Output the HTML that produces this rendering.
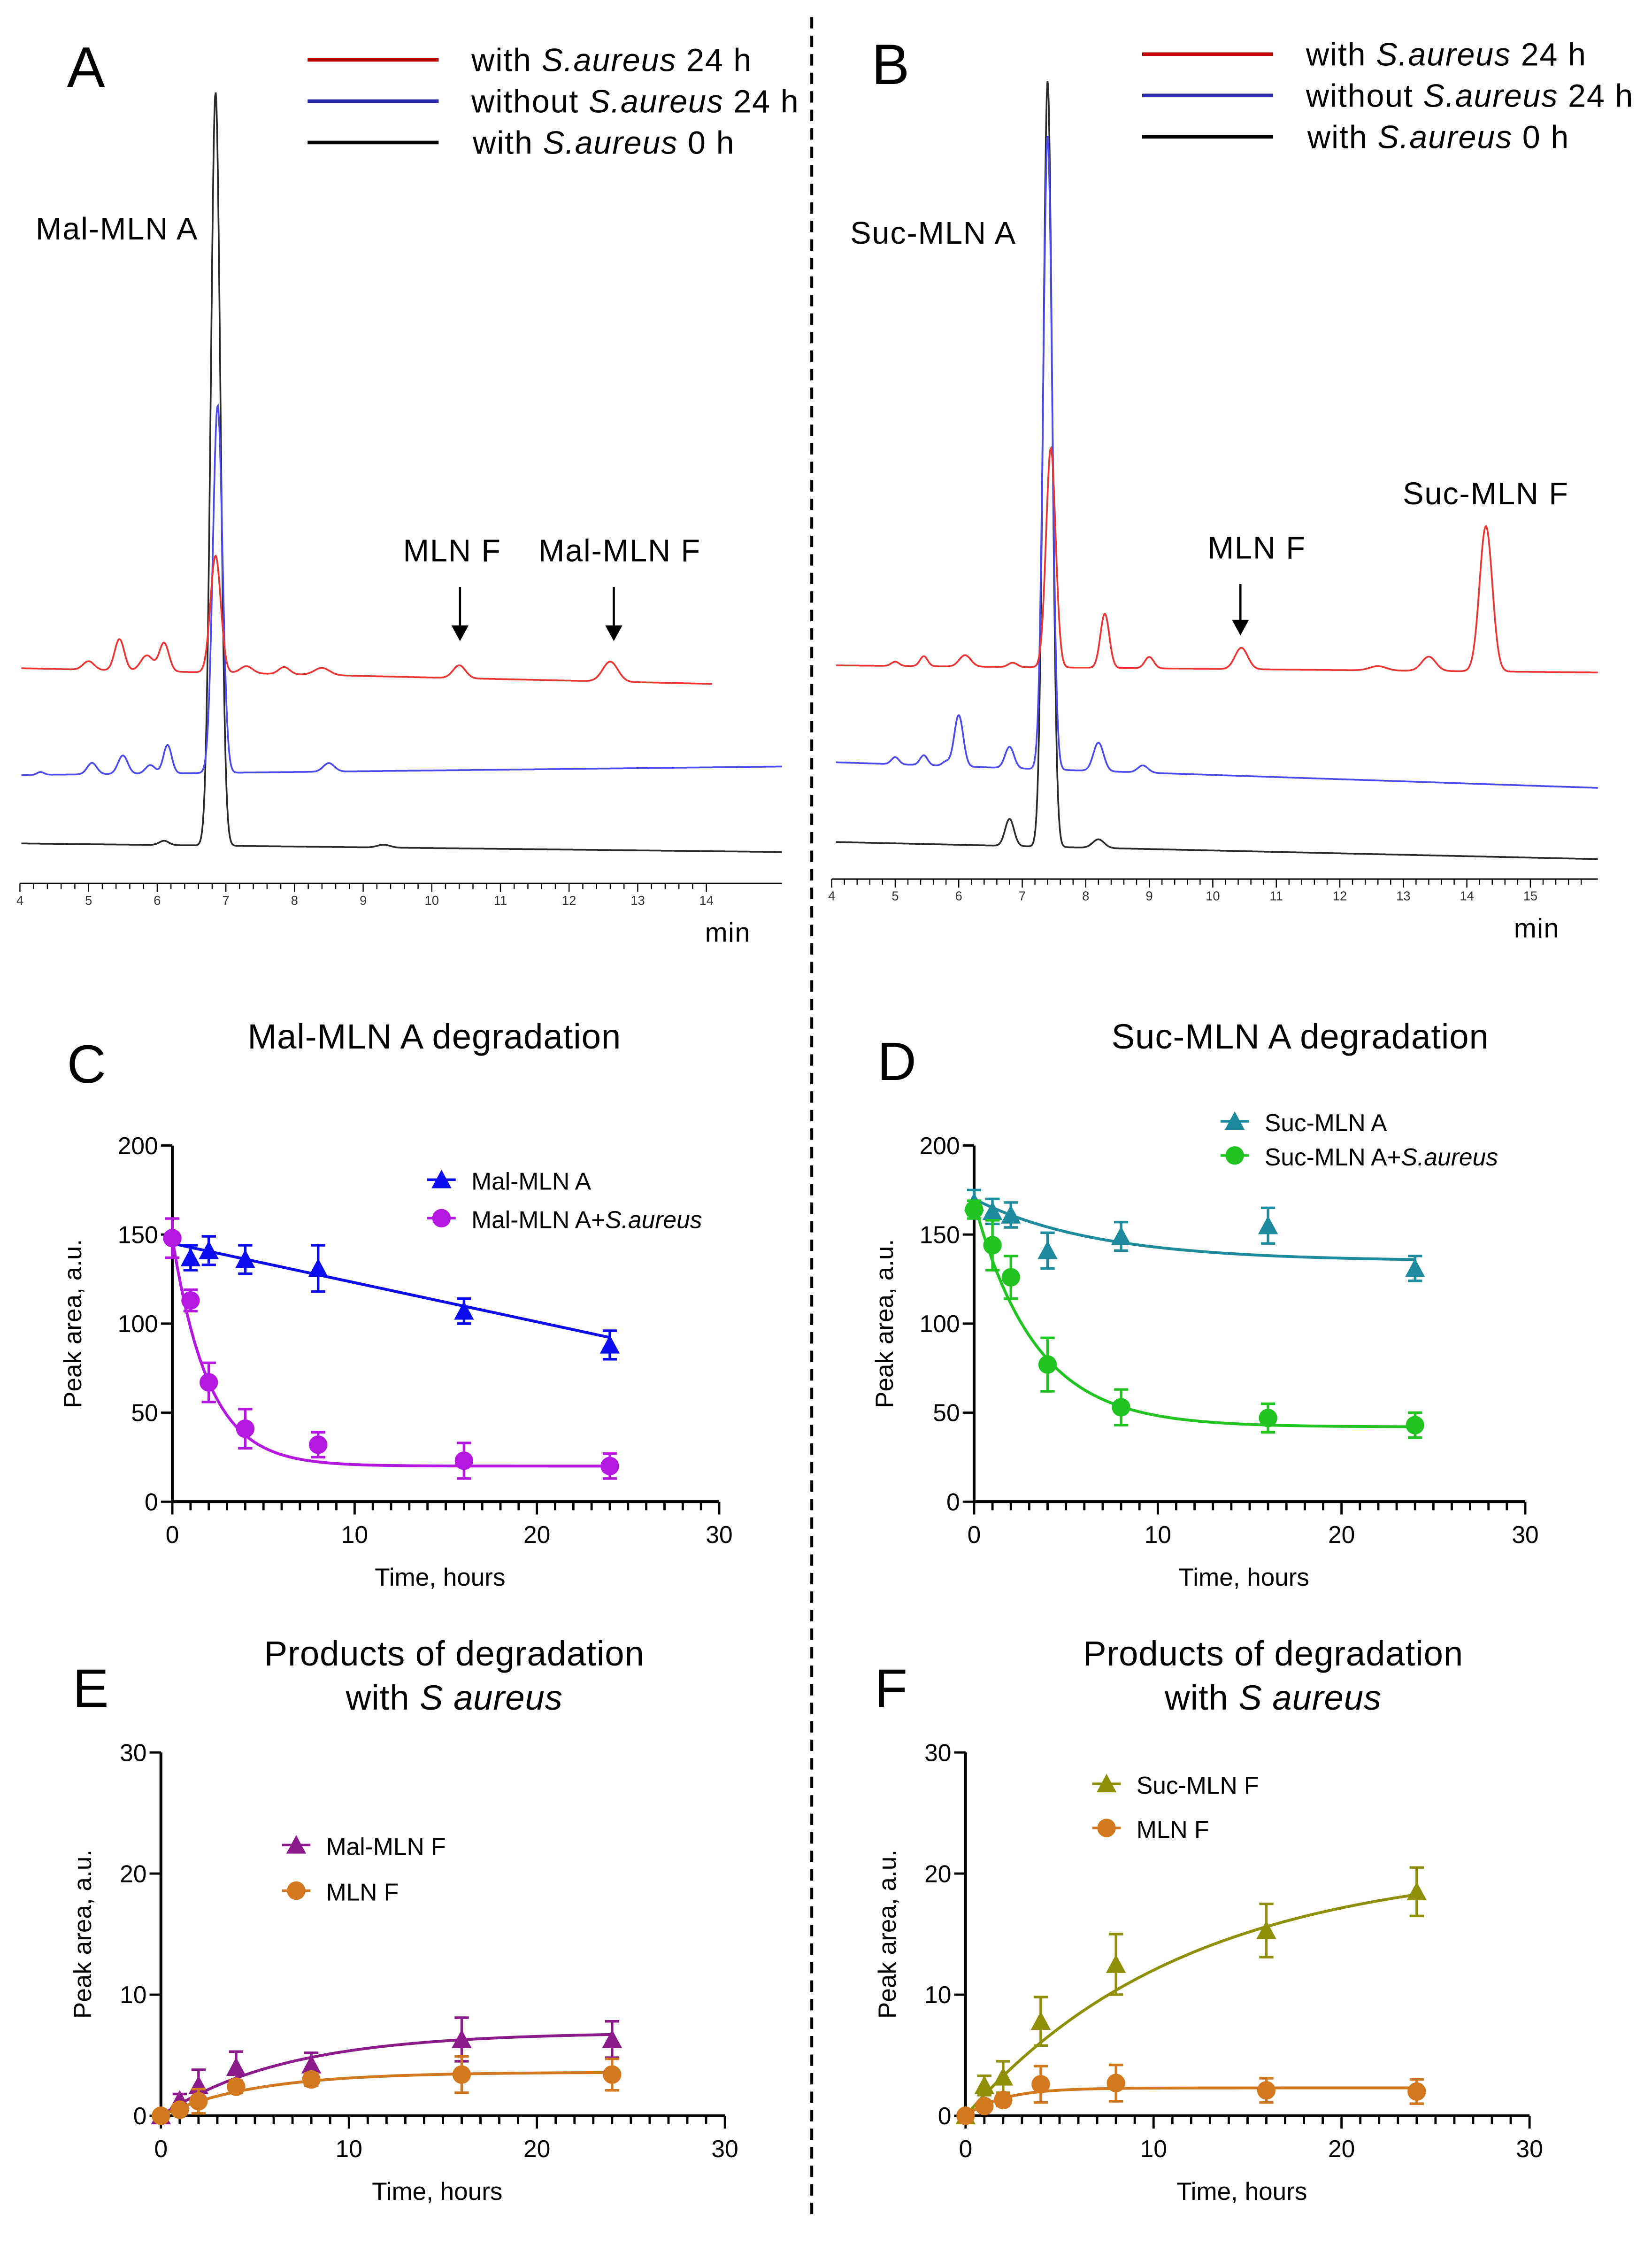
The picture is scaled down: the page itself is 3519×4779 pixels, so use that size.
<!DOCTYPE html>
<html><head><meta charset="utf-8">
<style>
html,body{margin:0;padding:0;background:#fff;}
svg{display:block;font-family:"Liberation Sans",sans-serif;}
</style></head>
<body>
<svg id="fig" xmlns="http://www.w3.org/2000/svg" width="3519" height="4779" viewBox="0 0 1160 1575" preserveAspectRatio="none">
<rect x="0" y="0" width="1160" height="1575" fill="#fff"/>
<line x1="570" y1="12" x2="570" y2="1558" stroke="#000" stroke-width="2" stroke-dasharray="8,5"/>
</svg>
<script>
// ---------- Chromatogram data (peaks: retention time min, height, sigma) ----------
const aRedPeaks   = [[5.0,6,0.08],[5.45,22,0.07],[5.85,11,0.09],[6.1,20,0.07],[6.85,82,0.075],[7.3,5,0.09],[7.85,5,0.08],[8.4,5,0.11],[10.4,9,0.09],[12.6,14,0.11]];
const aBluePeaks  = [[4.3,2,0.05],[5.05,8,0.07],[5.5,13,0.07],[5.9,6,0.07],[6.15,20,0.06],[6.88,258,0.07],[8.5,6,0.08]];
const aBlackPeaks = [[6.1,3,0.07],[6.85,529,0.07],[9.3,2,0.09]];
const bRedPeaks   = [[5.0,3,0.06],[5.45,7,0.06],[6.1,8,0.09],[6.85,3,0.07],[7.45,154,0.075],[8.3,38,0.07],[9.0,8,0.07],[10.45,15,0.1],[12.6,3,0.13],[13.4,10,0.11],[14.3,102,0.1]];
const bBluePeaks  = [[5.0,5,0.06],[5.45,7,0.06],[5.8,3,0.06],[6.0,36,0.07],[6.8,15,0.07],[7.4,445,0.07],[8.2,20,0.08],[8.9,5,0.08]];
const bBlackPeaks = [[6.8,19,0.07],[7.4,538,0.07],[8.2,6,0.09]];

// ---------- Kinetics data ----------
const timeC = [0,1,2,4,8,16,24];
const cMalA      = [null,137,141,136,131,107,88];
const cMalAErr   = [null,7,8,8,13,7,8];
const cMalASa    = [148,113,67,41,32,23,20];
const cMalASaErr = [11,6,11,11,7,10,7];
const cMalAFit   = [145,-2.2,0.0];
const cMalASaFit = [148,20,0.5];

const dSucA      = [168,163,161,141,149,155,131];
const dSucAErr   = [7,7,7,10,8,10,7];
const dSucASa    = [164,144,126,77,53,47,43];
const dSucASaErr = [5,14,12,15,10,8,7];
const dSucAFit   = [170,135,0.15];
const dSucASaFit = [168,42,0.3];

const eMalF      = [0,1.3,2.5,4.0,4.2,6.3,6.3];
const eMalFErr   = [0,0.5,1.3,1.3,1.0,1.8,1.5];
const eMLNF      = [0,0.5,1.2,2.4,3.0,3.4,3.4];
const eMLNFErr   = [0,0.3,1.0,0.5,0.5,1.5,1.3];
const eMalFFit   = [0,6.9,0.15];
const eMLNFFit   = [0,3.6,0.2];

const fSucF      = [0,2.5,3.2,7.8,12.5,15.3,18.5];
const fSucFErr   = [0,0.8,1.3,2.0,2.5,2.2,2.0];
const fMLNF      = [0,0.8,1.3,2.6,2.7,2.1,2.0];
const fMLNFErr   = [0,0.3,0.5,1.5,1.5,1.0,1.0];
const fSucFFit   = [0,21,0.085];
const fMLNFFit   = [0,2.3,0.5];

const xTicks = [0,10,20,30];
const yTicksCD = [0,50,100,150,200];
const yTicksEF = [0,10,20,30];

const NS="http://www.w3.org/2000/svg";
const svg=document.getElementById('fig');
function mk(tag,attrs,name,parent){
  const el=document.createElementNS(NS,tag);
  for(const k in attrs) el.setAttribute(k,attrs[k]);
  
  
  (parent||svg).appendChild(el);
  return el;
}
function txt(x,y,s,size,name,extra){
  const t=mk('text',Object.assign({x:x,y:y,'font-size':size,fill:'#000'},extra||{}),name);
  t.innerHTML=s;
  return t;
}

// ---------- Chromatograms ----------
function chrom(p){
  const xs=t=>p.x0+(t-p.t0)*p.ppm;
  mk('line',{x1:p.x0,y1:p.axisY,x2:p.xEnd,y2:p.axisY,stroke:'#000','stroke-width':1},p.id+'-x-axis');
  for(let t=p.t0;t<=p.tMax+1e-6;t+=0.2){
    const major=Math.abs(t-Math.round(t))<1e-6;
    mk('line',{x1:xs(t),y1:p.axisY,x2:xs(t),y2:p.axisY+(major?6:4),stroke:'#000','stroke-width':0.8},p.id+'-x-tick');
  }
  for(let t=p.t0;t<=p.tMax;t++){
    txt(xs(t),p.axisY+15,String(t),9,p.id+'-tick-label',{'text-anchor':'middle',fill:'#333'});
  }
  txt(p.minX,p.axisY+41,'min',19,p.id+'-x-unit',{'letter-spacing':0.5});
  p.traces.forEach(tr=>{
    let d='';
    for(let x=tr.xa;x<=tr.xb;x+=0.5){
      const t=p.t0+(x-p.x0)/p.ppm;
      const base=tr.b0+(tr.b1-tr.b0)*(x-tr.xa)/(tr.xb-tr.xa);
      let h=0;
      tr.peaks.forEach(pk=>{h+=pk[1]*Math.exp(-0.5*Math.pow((t-pk[0])/pk[2],2));});
      const y=base-h;
      d+=(d?'L':'M')+x.toFixed(1)+','+y.toFixed(1);
    }
    mk('path',{d:d,fill:'none',stroke:tr.color,'stroke-width':1.2},tr.name);
  });
  p.legend.forEach((lg,i)=>{
    mk('line',{x1:p.lgX,y1:p.lgY+i*29,x2:p.lgX+92,y2:p.lgY+i*29,stroke:lg[0],'stroke-width':2.5},'legend-line-'+lg[2]);
    txt(p.lgX+115+(i==2?1:0),p.lgY+i*29+8,lg[1],22.5,'legend-label-'+lg[2],{'letter-spacing':0.6});
  });
}
const LEG=[['#c00000','with <tspan font-style="italic">S.aureus</tspan> 24 h','red'],['#2828a8','without <tspan font-style="italic">S.aureus</tspan> 24 h','blue'],['#000','with <tspan font-style="italic">S.aureus</tspan> 0 h','black']];
chrom({id:'a',x0:14,t0:4,tMax:14,ppm:48.2,xEnd:549,axisY:620,minX:495,lgX:216,lgY:42,legend:LEG,
  traces:[
   {name:'trace-a-black',color:'#2a2a2a',peaks:aBlackPeaks,xa:15,xb:549,b0:592,b1:598},
   {name:'trace-a-blue',color:'#4a4af0',peaks:aBluePeaks,xa:15,xb:549,b0:544,b1:538},
   {name:'trace-a-red',color:'#ee3333',peaks:aRedPeaks,xa:15,xb:500,b0:469,b1:480}]});
chrom({id:'b',x0:584,t0:4,tMax:15.9,ppm:44.6,xEnd:1122,axisY:617,minX:1063,lgX:802,lgY:38,legend:LEG,
  traces:[
   {name:'trace-b-black',color:'#2a2a2a',peaks:bBlackPeaks,xa:587,xb:1122,b0:591,b1:603},
   {name:'trace-b-blue',color:'#4a4af0',peaks:bBluePeaks,xa:587,xb:1122,b0:535,b1:553},
   {name:'trace-b-red',color:'#ee3333',peaks:bRedPeaks,xa:587,xb:1122,b0:467,b1:472}]});
txt(47,61,'A',40,'panel-label-a');
txt(612,59,'B',40,'panel-label-b');
const PL={'letter-spacing':0.6};
txt(25,168,'Mal-MLN A',22,'peak-label-mal-mln-a',PL);
txt(597,171,'Suc-MLN A',22,'peak-label-suc-mln-a',PL);
txt(283,394,'MLN F',22,'peak-label-a-mln-f',PL);
txt(378,394,'Mal-MLN F',22,'peak-label-mal-mln-f',PL);
txt(848,392,'MLN F',22,'peak-label-b-mln-f',PL);
txt(985,354,'Suc-MLN F',22,'peak-label-suc-mln-f',PL);
function arrow(x,y1,y2,name){
  mk('line',{x1:x,y1:y1,x2:x,y2:y2-8,stroke:'#000','stroke-width':1.5},name+'-shaft');
  mk('polygon',{points:`${x-6},${y2-11} ${x+6},${y2-11} ${x},${y2}`,fill:'#000'},name+'-head');
}
arrow(323,412,450,'arrow-a-mln-f');
arrow(431,412,450,'arrow-mal-mln-f');
arrow(871,410,446,'arrow-b-mln-f');

// ---------- Scatter panels ----------
function expFit(p,t){return p[1]+(p[0]-p[1])*Math.exp(-p[2]*t);}
function panel(p){
  const xs=v=>p.x0+(v/30)*(p.x1-p.x0);
  const ys=v=>p.y0-(v/p.yMax)*(p.y0-p.y1);
  mk('line',{x1:p.x0,y1:p.y0,x2:p.x0,y2:p.y1,stroke:'#000','stroke-width':2},p.id+'-y-axis');
  mk('line',{x1:p.x0,y1:p.y0,x2:p.x1,y2:p.y0,stroke:'#000','stroke-width':2},p.id+'-x-axis');
  for(let v=0;v<=30;v++){
    const major=v%10===0;
    mk('line',{x1:xs(v),y1:p.y0,x2:xs(v),y2:p.y0+(major?9:6),stroke:'#000','stroke-width':1.6},p.id+'-x-tick');
  }
  xTicks.forEach(v=>txt(xs(v),p.y0+29,String(v),17,p.id+'-x-tick-label',{'text-anchor':'middle'}));
  p.yTicks.forEach(v=>{
    mk('line',{x1:p.x0-8,y1:ys(v),x2:p.x0,y2:ys(v),stroke:'#000','stroke-width':1.6},p.id+'-y-tick');
    txt(p.x0-10,ys(v)+6,String(v),17,p.id+'-y-tick-label',{'text-anchor':'end'});
  });
  txt(p.x0+(p.x1-p.x0)/2-4,p.y0+59,'Time, hours',17.5,p.id+'-x-axis-title',{'text-anchor':'middle'});
  txt(0,0,'Peak area, a.u.',17.5,p.id+'-y-axis-title',{'text-anchor':'middle',transform:`translate(${p.ylx},${(p.y0+p.y1)/2}) rotate(-90)`});
  p.series.forEach(s=>{
    let d='';
    for(let t=0;t<=24.001;t+=0.25){
      const v=s.fitType==='lin'?s.fit[0]+s.fit[1]*t:expFit(s.fit,t);
      d+=(d?'L':'M')+xs(t).toFixed(2)+','+ys(v).toFixed(2);
    }
    mk('path',{d:d,fill:'none',stroke:s.color,'stroke-width':2},s.name+'-fit-curve');
    timeC.forEach((t,i)=>{
      const v=s.vals[i]; if(v===null) return;
      const e=s.errs[i];
      if(e>0){
        mk('line',{x1:xs(t),y1:ys(v-e),x2:xs(t),y2:ys(v+e),stroke:s.color,'stroke-width':1.8},s.name+'-error-bar');
        mk('line',{x1:xs(t)-5,y1:ys(v+e),x2:xs(t)+5,y2:ys(v+e),stroke:s.color,'stroke-width':1.8},s.name+'-error-cap');
        mk('line',{x1:xs(t)-5,y1:ys(v-e),x2:xs(t)+5,y2:ys(v-e),stroke:s.color,'stroke-width':1.8},s.name+'-error-cap');
      }
      marker(s.shape,xs(t),ys(v),s.color,s.name+'-point');
    });
  });
  p.legend.forEach((lg,i)=>{
    const y=p.lgY+i*p.lgDy;
    mk('line',{x1:p.lgX-10,y1:y,x2:p.lgX+10,y2:y,stroke:lg.color,'stroke-width':1.8},'legend-line-'+lg.key);
    marker(lg.shape,p.lgX,y,lg.color,'legend-marker-'+lg.key);
    txt(p.lgX+21,y+7,lg.label,17,'legend-label-'+lg.key);
  });
  txt(p.titleX,p.titleY,p.title,24.5,p.id+'-title',{'text-anchor':'middle','letter-spacing':0.3});
  if(p.title2) txt(p.titleX,p.titleY+31,p.title2,24.5,p.id+'-title-line2',{'text-anchor':'middle','letter-spacing':0.3});
  txt(p.lblX,p.lblY,p.lbl,38,'panel-label-'+p.id);
}
function marker(shape,x,y,c,name){
  if(shape==='tri') mk('polygon',{points:`${x-7},${y+6} ${x+7},${y+6} ${x},${y-7}`,fill:c},name);
  else mk('circle',{cx:x,cy:y,r:6.5,fill:c},name);
}
const IT=s=>`<tspan font-style="italic">${s}</tspan>`;
panel({id:'c',x0:121,x1:505,y0:1054,y1:804,yMax:200,yTicks:yTicksCD,ylx:57,
  title:'Mal-MLN A degradation',titleX:305,titleY:736,lbl:'C',lblX:47,lblY:760,
  series:[
   {name:'mal-mln-a',color:'#0c0cf0',shape:'tri',vals:cMalA,errs:cMalAErr,fit:cMalAFit,fitType:'lin'},
   {name:'mal-mln-a-saureus',color:'#b418e0',shape:'circ',vals:cMalASa,errs:cMalASaErr,fit:cMalASaFit}],
  lgX:310,lgY:828,lgDy:27,legend:[{key:'mal-mln-a',color:'#0c0cf0',shape:'tri',label:'Mal-MLN A'},{key:'mal-mln-a-saureus',color:'#b418e0',shape:'circ',label:'Mal-MLN A+'+IT('S.aureus')}]});
panel({id:'d',x0:684,x1:1071,y0:1054,y1:804,yMax:200,yTicks:yTicksCD,ylx:627,
  title:'Suc-MLN A degradation',titleX:913,titleY:736,lbl:'D',lblX:616,lblY:758,
  series:[
   {name:'suc-mln-a',color:'#1f8b9e',shape:'tri',vals:dSucA,errs:dSucAErr,fit:dSucAFit},
   {name:'suc-mln-a-saureus',color:'#22c422',shape:'circ',vals:dSucASa,errs:dSucASaErr,fit:dSucASaFit}],
  lgX:867,lgY:787,lgDy:24,legend:[{key:'suc-mln-a',color:'#1f8b9e',shape:'tri',label:'Suc-MLN A'},{key:'suc-mln-a-saureus',color:'#22c422',shape:'circ',label:'Suc-MLN A+'+IT('S.aureus')}]});
panel({id:'e',x0:113,x1:509,y0:1485,y1:1230,yMax:30,yTicks:yTicksEF,ylx:64,
  title:'Products of degradation',title2:'with '+IT('S aureus'),titleX:319,titleY:1169,lbl:'E',lblX:51,lblY:1198,
  series:[
   {name:'e-mal-mln-f',color:'#8b1a8b',shape:'tri',vals:eMalF,errs:eMalFErr,fit:eMalFFit},
   {name:'e-mln-f',color:'#d2781e',shape:'circ',vals:eMLNF,errs:eMLNFErr,fit:eMLNFFit}],
  lgX:208,lgY:1295,lgDy:32,legend:[{key:'e-mal-mln-f',color:'#8b1a8b',shape:'tri',label:'Mal-MLN F'},{key:'e-mln-f',color:'#d2781e',shape:'circ',label:'MLN F'}]});
panel({id:'f',x0:678,x1:1074,y0:1485,y1:1230,yMax:30,yTicks:yTicksEF,ylx:629,
  title:'Products of degradation',title2:'with '+IT('S aureus'),titleX:894,titleY:1169,lbl:'F',lblX:614,lblY:1198,
  series:[
   {name:'f-suc-mln-f',color:'#8f8f08',shape:'tri',vals:fSucF,errs:fSucFErr,fit:fSucFFit},
   {name:'f-mln-f',color:'#d2781e',shape:'circ',vals:fMLNF,errs:fMLNFErr,fit:fMLNFFit}],
  lgX:777,lgY:1252,lgDy:31,legend:[{key:'f-suc-mln-f',color:'#8f8f08',shape:'tri',label:'Suc-MLN F'},{key:'f-mln-f',color:'#d2781e',shape:'circ',label:'MLN F'}]});
</script>
</body></html>
